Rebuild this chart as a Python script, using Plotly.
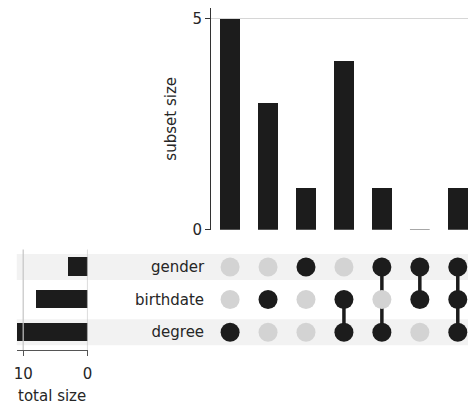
import plotly.graph_objects as go

# ---- data ----
categories = ["degree", "birthdate", "gender"]          # bottom -> top rows
total_sizes = [11, 8, 3]
subset_members = [
    ["degree"],
    ["birthdate"],
    ["gender"],
    ["birthdate", "degree"],
    ["gender", "degree"],
    ["gender", "birthdate"],
    ["gender", "birthdate", "degree"],
]
subset_sizes = [5, 3, 1, 4, 1, 0, 1]
subset_ticks = [0, 5]
total_ticks = [10, 0]

W, H = 473, 408
DARK = "#1c1c1c"
LIGHT_DOT = "#d3d3d3"
SHADE = "#f2f2f2"
FONT = "DejaVu Sans"
TXT = "#262626"

def px_x(p):
    return p / W

def px_y(p):
    return 1 - p / H

fig = go.Figure()

n = len(subset_sizes)
xs = list(range(n))

# top bars
fig.add_trace(go.Bar(x=xs, y=subset_sizes, width=0.52, marker=dict(color=DARK, line=dict(width=0)),
                     xaxis="x", yaxis="y", showlegend=False, hoverinfo="skip"))
# zero-sized subsets: draw a thin outline at baseline
for i, v in enumerate(subset_sizes):
    if v == 0:
        fig.add_trace(go.Scatter(x=[i - 0.26, i + 0.26], y=[0, 0], mode="lines",
                                 line=dict(color="#8a8a8a", width=1.5), xaxis="x", yaxis="y",
                                 showlegend=False, hoverinfo="skip"))

# matrix dots
row_index = {c: k for k, c in enumerate(categories)}
dx, dy, dc = [], [], []
for i, mem in enumerate(subset_members):
    for c in categories:
        dx.append(i)
        dy.append(row_index[c])
        dc.append(DARK if c in mem else LIGHT_DOT)
# connecting lines
for i, mem in enumerate(subset_members):
    if len(mem) > 1:
        rows = [row_index[c] for c in mem]
        fig.add_trace(go.Scatter(x=[i, i], y=[min(rows), max(rows)], mode="lines",
                                 line=dict(color=DARK, width=3.5), xaxis="x2", yaxis="y2",
                                 showlegend=False, hoverinfo="skip"))
fig.add_trace(go.Scatter(x=dx, y=dy, mode="markers",
                         marker=dict(size=19, color=dc, line=dict(width=0)),
                         xaxis="x2", yaxis="y2", showlegend=False, hoverinfo="skip"))

# totals bars
fig.add_trace(go.Bar(x=total_sizes, y=list(range(len(categories))), orientation="h", width=0.56,
                     marker=dict(color=DARK, line=dict(width=0)), xaxis="x3", yaxis="y3",
                     showlegend=False, hoverinfo="skip"))

# shading rows
shapes = []
for k, c in enumerate(categories):
    if k % 2 == 0:
        shapes.append(dict(type="rect", xref="paper", yref="y2", x0=px_x(14), x1=1,
                           y0=k - 0.4, y1=k + 0.4, fillcolor=SHADE, line=dict(width=0), layer="below"))
# totals gridlines drawn over bars (as in the reference)
for t in total_ticks:
    shapes.append(dict(type="line", xref="x3", yref="y3 domain", x0=t, x1=t, y0=0, y1=1,
                       line=dict(color="#c4c4c4", width=1.2), layer="above"))

xr = [-0.5, (W - 231) / 38.6]
mat_top, mat_bot = 255, 358
yr = [-0.55, 2.54]

fig.update_layout(
    width=W, height=H, margin=dict(l=0, r=0, t=0, b=0),
    paper_bgcolor="white", plot_bgcolor="rgba(0,0,0,0)",
    font=dict(family=FONT, size=15, color=TXT),
    shapes=shapes, bargap=0,
    xaxis=dict(domain=[px_x(211.7), 1], range=xr, showticklabels=False, showgrid=False,
               zeroline=False, showline=False, ticks=""),
    yaxis=dict(domain=[px_y(235), px_y(8)], range=[0, 5.26], tickvals=subset_ticks,
               showgrid=True, gridcolor="#d6d6d6", gridwidth=1, zeroline=False,
               showline=True, linecolor="#333333", linewidth=1.2, ticks="outside",
               ticklen=5, tickcolor="#333333", tickfont=dict(size=15, color=TXT),
               title=dict(text="subset size", standoff=12, font=dict(size=15, color=TXT))),
    xaxis2=dict(domain=[px_x(211.7), 1], range=xr, anchor="y2", showticklabels=False,
                showgrid=False, zeroline=False, showline=False, ticks=""),
    yaxis2=dict(domain=[px_y(mat_bot), px_y(mat_top)], range=yr, anchor="x2",
                tickvals=list(range(len(categories))), ticktext=categories,
                showgrid=False, zeroline=False, showline=False, ticks="",
                ticklabelstandoff=6, tickfont=dict(size=15, color=TXT)),
    xaxis3=dict(domain=[px_x(14), px_x(86)], range=[11, 0], anchor="y3", tickvals=total_ticks,
                showgrid=False, zeroline=False,
                showline=True, linecolor="#555555", linewidth=1.2, ticks="outside", ticklen=5,
                tickcolor="#555555", tickfont=dict(size=15, color=TXT), ticklabelstandoff=5,
                title=dict(text="total size", standoff=8, font=dict(size=15, color=TXT))),
    yaxis3=dict(domain=[px_y(mat_bot), px_y(mat_top)], range=yr, anchor="x3",
                showticklabels=False, showgrid=False, zeroline=False, showline=False, ticks=""),
)

fig.write_html("out.html")
